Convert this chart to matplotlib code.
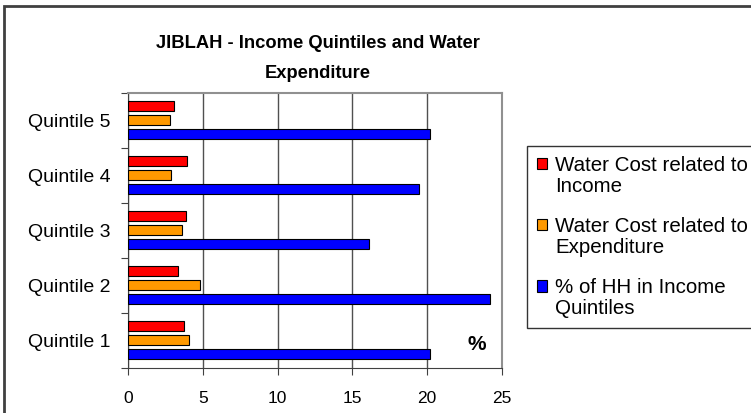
#importing packages
import numpy as np
import matplotlib.pyplot as plt
from matplotlib.patches import Rectangle, Patch
from matplotlib.legend_handler import HandlerPatch

plt.rcParams['font.family'] = ['Liberation Sans', 'DejaVu Sans']

#data
quintiles = ["Quintile 1", "Quintile 2", "Quintile 3", "Quintile 4", "Quintile 5"]
cost_income = [3.73, 3.30, 3.84, 3.95, 3.08]
cost_expenditure = [4.04, 4.80, 3.61, 2.88, 2.77]
hh_share = [20.2, 24.25, 16.1, 19.45, 20.2]
series_names = ["Water Cost related to\nIncome",
                "Water Cost related to\nExpenditure",
                "% of HH in Income\nQuintiles"]
series_colors = ["#FF0000", "#FF9900", "#0000FF"]

#figure
fig = plt.figure(figsize=(7.51, 4.13), dpi=100)
fig.patches.append(Rectangle((4 / 751, -0.1), 1.2, (413 - 5.5) / 413 + 0.1,
                             transform=fig.transFigure, fill=False,
                             edgecolor="#404040", linewidth=2))
ax = fig.add_axes([128.3 / 751, 45.3 / 413, 373.4 / 751, 275 / 413])

y = np.arange(len(quintiles))
h = 0.18
off = 0.255
ax.barh(y + off, cost_income, height=h, color=series_colors[0], edgecolor="black", linewidth=0.8, zorder=3)
ax.barh(y, cost_expenditure, height=h, color=series_colors[1], edgecolor="black", linewidth=0.8, zorder=3)
ax.barh(y - off, hh_share, height=h, color=series_colors[2], edgecolor="black", linewidth=0.8, zorder=3)

ax.set_xlim(0, 25)
ax.set_ylim(-0.5, 4.5)
ax.set_xticks([0, 5, 10, 15, 20, 25])
ax.tick_params(axis="x", labelsize=12.5, length=5, color="#404040", pad=12)
ax.set_yticks(np.arange(-0.5, 5, 1))
ax.set_yticklabels([])
ax.set_yticks(y, minor=True)
ax.set_yticklabels(quintiles, minor=True)
ax.tick_params(axis="y", which="major", length=5, color="#404040")
ax.tick_params(axis="y", which="minor", length=0, labelsize=14, pad=13)
ax.xaxis.grid(True, color="#505050", linewidth=1, zorder=0)
ax.set_axisbelow(True)
for s in ["left", "bottom"]:
    ax.spines[s].set_color("#404040")
for s in ["top", "right"]:
    ax.spines[s].set_color("#909090")
    ax.spines[s].set_linewidth(1.5)

ax.text(476.7 / 751, (413 - 344.5) / 413, "%", transform=fig.transFigure,
        ha="center", va="center", fontsize=15, fontweight="bold")

fig.text(318 / 751, (413 - 44) / 413, "JIBLAH - Income Quintiles and Water",
         ha="center", va="center", fontsize=13.2, fontweight="bold")
fig.text(318 / 751, (413 - 73) / 413, "Expenditure",
         ha="center", va="center", fontsize=13.2, fontweight="bold")

#legend square sits on the first line of the label
def top_square(legend, orig_handle, xdescent, ydescent, width, height, fontsize):
    return Rectangle((-xdescent, -ydescent + 0.62 * fontsize), width, height)

handles = [Patch(facecolor=c, edgecolor="black", linewidth=0.8) for c in series_colors]
leg = fig.legend(handles, series_names, loc="upper left",
                 bbox_to_anchor=(526.7 / 751, (413 - 146) / 413),
                 fontsize=14.8, frameon=True, fancybox=False, handlelength=0.5,
                 handleheight=0.5, handletextpad=0.4, labelspacing=1.05,
                 borderpad=0.5, borderaxespad=0,
                 handler_map={Patch: HandlerPatch(patch_func=top_square)})
leg.get_frame().set_edgecolor("black")
leg.get_frame().set_linewidth(1)
for t in leg.get_texts():
    t.set_linespacing(1.1)

plt.savefig("out.png", dpi=100)
